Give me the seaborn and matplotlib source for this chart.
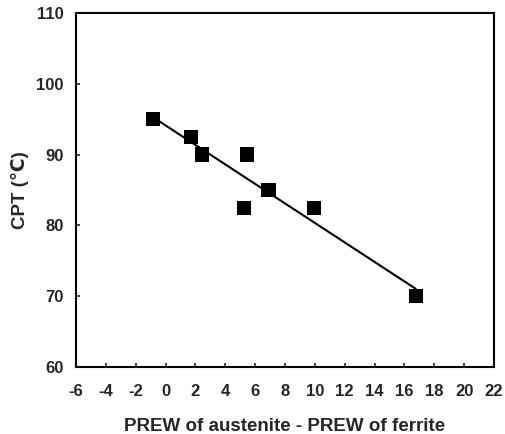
import matplotlib
matplotlib.use("Agg")
import matplotlib.pyplot as plt
import seaborn as sns
import pandas as pd

# PREW difference between austenite and ferrite vs. critical pitting temperature
prew_diff = [-0.86, 1.7, 2.46, 5.43, 5.25, 6.9, 9.92, 16.75]
cpt = [95.0, 92.5, 90.0, 90.0, 82.5, 85.0, 82.5, 70.0]

x_ticks = list(range(-6, 23, 2))
y_ticks = [60, 70, 80, 90, 100, 110]

df = pd.DataFrame({"prew": prew_diff, "cpt": cpt})

sns.set_style("white")
plt.rcParams["font.family"] = ["Liberation Sans", "DejaVu Sans"]
plt.rcParams["font.weight"] = "bold"

fig = plt.figure(figsize=(5.05, 4.34), dpi=100)
ax = fig.add_axes([76 / 505, 1 - 367 / 434, (494 - 76) / 505, (367 - 13) / 434])

sns.regplot(
    data=df, x="prew", y="cpt", ax=ax, ci=None,
    marker="s", color="black",
    scatter_kws={"s": 105, "alpha": 1, "edgecolors": "none", "zorder": 3},
    line_kws={"color": "black", "lw": 1.5},
)

ax.set_xlim(-6, 22)
ax.set_ylim(60, 110)
ax.set_xticks(x_ticks)
ax.set_yticks(y_ticks)
ax.set_xticklabels([str(t) for t in x_ticks], fontsize=12, fontweight="bold")
ax.set_yticklabels([str(t) for t in y_ticks], fontsize=12, fontweight="bold")
ax.tick_params(direction="in", length=3, width=1.2, bottom=True, left=True, pad=9)
ax.tick_params(axis="x", pad=12)

for s in ax.spines.values():
    s.set_color("black")
    s.set_linewidth(1.5)

ax.set_xlabel("PREW of austenite - PREW of ferrite", fontsize=13.5, fontweight="bold", labelpad=14)
ax.set_ylabel("CPT (\u2103)", fontsize=13.5, fontweight="bold", labelpad=5)

fig.savefig("out.png", dpi=100)
